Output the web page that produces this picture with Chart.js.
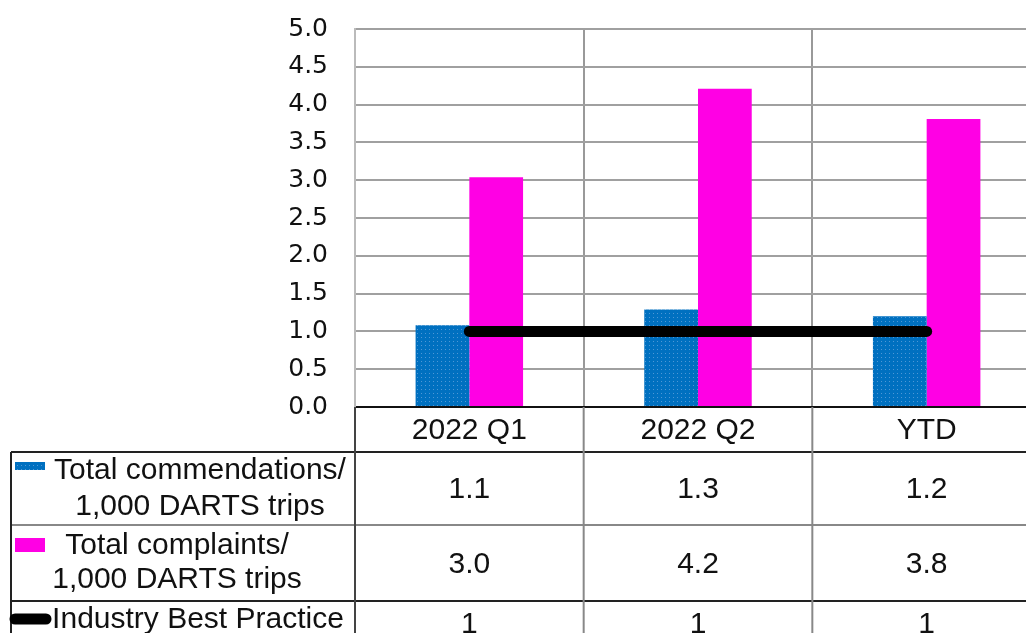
<!DOCTYPE html>
<html>
<head>
<meta charset="utf-8">
<script src="https://cdn.jsdelivr.net/npm/chart.js@4"></script>
<style>
  html, body { margin: 0; padding: 0; background: #fff; overflow: hidden; }
  canvas { display: block; }
</style>
</head>
<body>
<canvas id="myChart" width="1041" height="633"></canvas>
<script>
const categories = ['2022 Q1', '2022 Q2', 'YTD'];
const commendations = [1.08, 1.29, 1.2];
const complaints = [3.04, 4.21, 3.81];
const bestPractice = [1, 1, 1];
const rowLabels = [
  ['Total commendations/', '1,000 DARTS trips'],
  ['Total complaints/', '1,000 DARTS trips'],
  ['Industry Best Practice']
];

const canvas = document.getElementById('myChart');
const mainCtx = canvas.getContext('2d');

// blue fill with the little light dots
function dotPattern() {
  const c = document.createElement('canvas');
  c.width = 4; c.height = 4;
  const g = c.getContext('2d');
  g.fillStyle = '#0070c0';
  g.fillRect(0, 0, 4, 4);
  g.fillStyle = '#4f98d6';
  g.fillRect(1, 1, 1, 1);
  return mainCtx.createPattern(c, 'repeat');
}
const bluePattern = dotPattern();
const pink = '#ff00e4';

const tableFont = '30px "Liberation Sans", Arial, sans-serif';

const dataTable = {
  id: 'dataTable',
  afterDraw(chart) {
    const ctx = chart.ctx;
    const area = chart.chartArea;
    const xs = chart.scales.x;
    const colW = (area.right - area.left) / categories.length;
    const heights = [45, 73, 76, 45];
    const ys = [area.bottom];
    heights.forEach(h => ys.push(ys[ys.length - 1] + h));
    const tableLeft = 11;

    ctx.save();
    // horizontal rules
    const hLine = (y, x0, color) => {
      ctx.strokeStyle = color; ctx.lineWidth = 2;
      ctx.beginPath(); ctx.moveTo(x0, y); ctx.lineTo(area.right, y); ctx.stroke();
    };
    hLine(ys[1], tableLeft, '#222');
    hLine(ys[2], tableLeft, '#888');
    hLine(ys[3], tableLeft, '#222');

    // vertical rules
    const vLine = (x, y0, color) => {
      ctx.strokeStyle = color; ctx.lineWidth = 2;
      ctx.beginPath(); ctx.moveTo(x, y0); ctx.lineTo(x, ys[4]); ctx.stroke();
    };
    vLine(tableLeft, ys[1], '#222');
    vLine(area.left, area.bottom, '#444');
    for (let i = 1; i < categories.length; i++) {
      vLine(area.left + colW * i, area.bottom, '#888');
    }

    ctx.fillStyle = '#111';
    ctx.font = tableFont;
    ctx.textAlign = 'center';
    ctx.textBaseline = 'alphabetic';

    // header
    categories.forEach((c, i) => {
      ctx.fillText(c, xs.getPixelForValue(i), (ys[0] + ys[1]) / 2 + 9.5);
    });

    // values
    const rows = [
      commendations.map(v => v.toFixed(1)),
      complaints.map(v => v.toFixed(1)),
      bestPractice.map(v => String(v))
    ];
    rows.forEach((r, ri) => {
      const cy = (ys[ri + 1] + ys[ri + 2]) / 2;
      r.forEach((t, i) => ctx.fillText(t, xs.getPixelForValue(i), cy + 9.5));
    });

    // legend keys
    ctx.fillStyle = bluePattern;
    ctx.fillRect(15, ys[1] + 10, 30, 8);
    ctx.fillStyle = pink;
    ctx.fillRect(15, ys[2] + 13, 30, 14);
    ctx.strokeStyle = '#000';
    ctx.lineWidth = 11;
    ctx.lineCap = 'round';
    ctx.beginPath(); ctx.moveTo(15, ys[3] + 18); ctx.lineTo(46, ys[3] + 18); ctx.stroke();

    // row labels
    ctx.fillStyle = '#111';
    const labelCenters = [200, 177, 198];
    const baselines = [[27, 63], [29, 63], [27]];
    rowLabels.forEach((lines, ri) => {
      lines.forEach((t, li) => {
        ctx.fillText(t, labelCenters[ri], ys[ri + 1] + baselines[ri][li]);
      });
    });
    ctx.restore();
  }
};

new Chart(canvas, {
  data: {
    labels: categories,
    datasets: [
      {
        type: 'line',
        label: 'Industry Best Practice',
        data: bestPractice,
        borderColor: '#000',
        borderWidth: 11,
        borderCapStyle: 'round',
        pointRadius: 0,
        order: 0
      },
      {
        type: 'bar',
        label: 'Total commendations/ 1,000 DARTS trips',
        data: commendations,
        backgroundColor: bluePattern,
        categoryPercentage: 0.47,
        barPercentage: 1.0,
        order: 1
      },
      {
        type: 'bar',
        label: 'Total complaints/ 1,000 DARTS trips',
        data: complaints,
        backgroundColor: pink,
        categoryPercentage: 0.47,
        barPercentage: 1.0,
        order: 1
      }
    ]
  },
  options: {
    responsive: false,
    animation: false,
    layout: { padding: { top: 29, bottom: 226, left: 0, right: 0 } },
    plugins: {
      legend: { display: false },
      tooltip: { enabled: false }
    },
    scales: {
      x: {
        offset: true,
        ticks: { display: false },
        grid: { offset: true, color: '#999', lineWidth: 2, drawTicks: false },
        border: { color: '#111', width: 2 },
        afterFit(scale) { scale.height = 0; }
      },
      y: {
        min: 0,
        max: 5,
        ticks: {
          stepSize: 0.5,
          padding: 27,
          color: '#111',
          font: { family: '"DejaVu Sans"', size: 25 },
          callback: v => v.toFixed(1)
        },
        grid: { color: '#a0a0a0', lineWidth: 2, drawTicks: false },
        border: { color: '#bbb', width: 2 },
        afterFit(scale) {
          scale.width = 355;
          scale.paddingTop = 0;
          scale.paddingBottom = 0;
        }
      }
    }
  },
  plugins: [dataTable]
});
</script>
</body>
</html>
